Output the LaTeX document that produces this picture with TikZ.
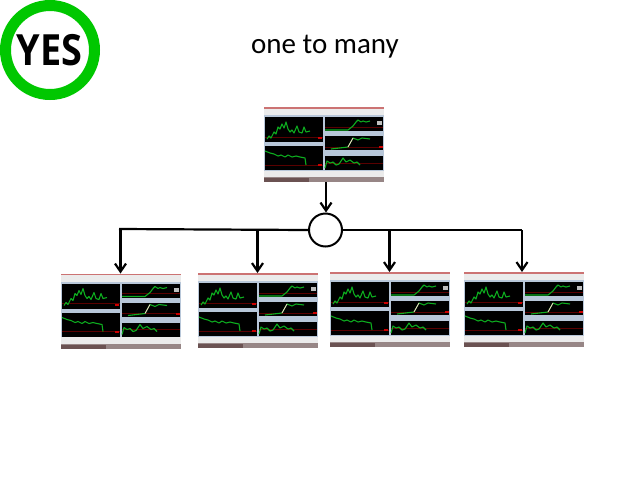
\documentclass[tikz,border=0pt]{standalone}
\usepackage{fontspec}
\setmainfont{Carlito}
\newfontfamily\badgefont{Open Sans}
\usetikzlibrary{arrows.meta}
\definecolor{badgeGreen}{rgb}{0,0.78,0}
\definecolor{chartGreen}{rgb}{0.05,0.68,0.12}
\definecolor{frameBlue}{rgb}{0.72,0.78,0.85}
\definecolor{titleRed}{rgb}{0.8,0.45,0.45}
\definecolor{taskBar}{rgb}{0.42,0.32,0.32}
\tikzset{
 screenbox/.style={inner sep=0pt,minimum width=120pt,minimum height=75pt,anchor=north west},
 link/.style={line width=2.2pt,black},
 linkarrow/.style={link,-{Straight Barb[length=8pt,width=11pt,line width=2.2pt]}},
 chart/.style={chartGreen,line width=1.1pt,line join=round},
 pics/screen/.style={code={
	\fill[frameBlue] (0,0) rectangle (120,70);
	\fill[white!92!black] (0,0) rectangle (120,8);
	\fill[white!92!black] (0,63.5) rectangle (120,70);
	\fill[titleRed] (0,0) rectangle (120,1.5);
	\fill[taskBar!70!white] (0,70) rectangle (120,75);
	\fill[taskBar] (0,71) rectangle (45,75);
	\fill[black] (1,10) rectangle (59,35);
	\fill[black] (1,39) rectangle (59,63);
	\fill[black] (61,10) rectangle (119,24);
	\fill[black] (61,29) rectangle (119,43);
	\fill[black] (61,49) rectangle (119,63);
	\draw[red!35!black,line width=0.3pt] (1,30) -- (59,30);
	\draw[red!35!black,line width=0.3pt] (1,58) -- (59,58);
	\draw[red!35!black,line width=0.3pt] (61,20) -- (119,20);
	\draw[red!35!black,line width=0.3pt] (61,40) -- (119,40);
	\draw[red!35!black,line width=0.3pt] (61,56) -- (119,56);
	\fill[white!75!black] (113,14) rectangle (118,18);
	\fill[red!80!black] (115,39) rectangle (119,41);
	\fill[red!80!black] (54,30) rectangle (58,32);
	\fill[red!80!black] (54,57) rectangle (58,59);
	\draw[chart] (3,32) -- (5,29) -- (7,31) -- (10,25) -- (12,27) -- (14,20) -- (16,22) -- (18,17) -- (20,21) -- (22,15) -- (24,22) -- (26,25) -- (28,23) -- (30,26) -- (33,19) -- (35,25) -- (38,26) -- (40,20) -- (42,25) -- (46,24);
	\draw[chart] (1,44) -- (6,46) -- (10,47) -- (14,49) -- (17,48) -- (21,50) -- (24,48) -- (28,50) -- (32,49) -- (36,50) -- (41,51) -- (42,58);
	\draw[chart] (61,23) -- (84,23) -- (89,19) -- (92,15) -- (94,13) -- (97,15) -- (99,14) -- (102,15) -- (106,14);
	\draw[chart] (67,42) -- (84,40) -- (89,31) -- (94,33) -- (98,31) -- (106,32);
	\draw[white!80!red,line width=0.8pt] (84,40) -- (89,31);
	\draw[chart] (61,61) -- (63,54) -- (66,56) -- (69,55) -- (72,58) -- (75,57) -- (79,51) -- (82,55) -- (86,53) -- (90,56) -- (93,55) -- (96,58);
 }}
}
\begin{document}
\begin{tikzpicture}[x=1pt,y=-1pt]
	\useasboundingbox (0,0) rectangle (640,480);
	% badge and title
	\node[circle,draw=badgeGreen,line width=11pt,minimum size=89pt,inner sep=0pt] (badge) at (50,50) {};
	\node[font=\badgefont\bfseries\fontsize{43pt}{43pt}\selectfont,xscale=.88,inner sep=0pt] (yes) at (49.5,50) {YES};
	\node[font=\fontsize{29pt}{29pt}\selectfont,inner sep=0pt] (title) at (325,47) {one to many};
	% screens
	\node[screenbox] (top) at (264,107) {};
	\node[screenbox] (scrA) at (61,273.5) {};
	\node[screenbox] (scrB) at (198,273) {};
	\node[screenbox] (scrC) at (330,272) {};
	\node[screenbox] (scrD) at (464,272) {};
	\foreach \s in {top,scrA,scrB,scrC,scrD}
		\pic at (\s.north west) {screen};
	% hub
	\node[circle,draw,line width=2pt,minimum size=33pt,inner sep=0pt] (hub) at (325.5,230) {};
	\coordinate (startA) at (119,229);
	\coordinate (topA) at (120.5,229);
	\coordinate (topB) at (257.5,229);
	\coordinate (topC) at (389.5,230);
	\coordinate (topD) at (522,230);
	\coordinate (tipT) at (326,215);
	% connectors
	\draw[linkarrow] (top.south -| tipT) -- (hub.north -| tipT);
	\draw[link] (hub.west) -- (startA);
	\draw[link] (hub.east) -- (topD);
	\draw[linkarrow] (topA) -- (topA |- scrA.north);
	\draw[linkarrow] (topB) -- (topB |- scrB.north);
	\draw[linkarrow] (topC) -- (topC |- scrC.north);
	\draw[linkarrow] (topD) -- (topD |- scrD.north);
\end{tikzpicture}
\end{document}
